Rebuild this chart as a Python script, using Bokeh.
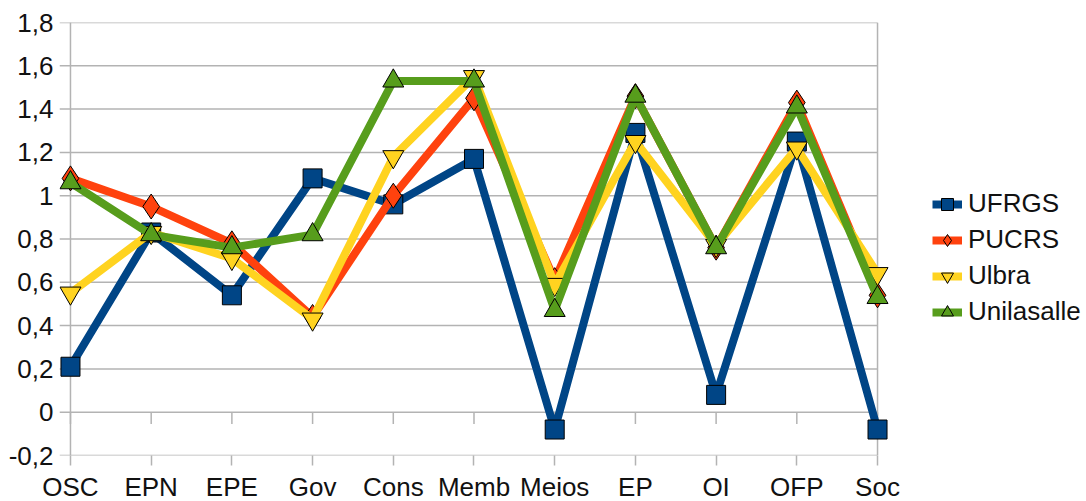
from bokeh.plotting import figure
from bokeh.models import Range1d, FixedTicker, CustomJSTickFormatter, Legend, LegendItem, ColumnDataSource
from bokeh.embed import file_html
from bokeh.resources import INLINE

categories = ["OSC", "EPN", "EPE", "Gov", "Cons", "Memb", "Meios", "EP", "OI", "OFP", "Soc"]
ufrgs = [0.21, 0.83, 0.54, 1.08, 0.96, 1.17, -0.08, 1.29, 0.08, 1.25, -0.08]
pucrs = [1.08, 0.95, 0.78, 0.44, 1.00, 1.45, 0.61, 1.46, 0.76, 1.43, 0.54]
ulbra = [0.55, 0.83, 0.71, 0.43, 1.18, 1.55, 0.59, 1.25, 0.77, 1.22, 0.64]
unilasalle = [1.06, 0.82, 0.76, 0.82, 1.53, 1.53, 0.47, 1.46, 0.76, 1.41, 0.53]
y_ticks = [-0.2, 0, 0.2, 0.4, 0.6, 0.8, 1.0, 1.2, 1.4, 1.6, 1.8]

xs = list(range(len(categories)))
n = len(categories) - 1
FONT = "Liberation Sans"
GRID = "#b3b3b3"
TXT = "#111111"
PAD_L = 0.136   # gridlines stick out left of the y axis like ticks
X_END = 12.577  # frame extends right to host the legend

p = figure(output_backend="svg", toolbar_location=None,
           x_range=Range1d(-PAD_L, X_END), y_range=Range1d(-0.2, 1.8),
           min_border_left=59, min_border_top=22, min_border_right=0, min_border_bottom=0)
p.frame_width = 1026
p.frame_height = 433

p.grid.visible = False
p.outline_line_color = None

# gridlines and frame lines
p.segment(x0=[-PAD_L] * len(y_ticks), y0=y_ticks, x1=[n] * len(y_ticks), y1=y_ticks,
          line_color=GRID, line_width=1.5)
p.segment(x0=[0, n], y0=[y_ticks[0]] * 2, x1=[0, n], y1=[y_ticks[-1]] * 2,
          line_color=GRID, line_width=1.5)
# x-axis tick marks at y = 0
p.segment(x0=xs, y0=[0] * len(xs), x1=xs, y1=[-0.055] * len(xs), line_color=GRID, line_width=1.5)

p.yaxis.ticker = FixedTicker(ticks=y_ticks)
p.yaxis.formatter = CustomJSTickFormatter(code="""
const v = Math.round(tick*10)/10;
return v.toString().replace('.', ',');
""")
p.xaxis.ticker = FixedTicker(ticks=xs)
p.xaxis.major_label_overrides = {i: c for i, c in enumerate(categories)}
for ax in (p.xaxis, p.yaxis):
    ax.axis_line_color = None
    ax.major_tick_line_color = GRID
    ax.major_tick_line_width = 1.5
    ax.major_tick_in = 0
    ax.minor_tick_line_color = None
    ax.major_label_text_font = FONT
    ax.major_label_text_font_size = "26px"
    ax.major_label_text_color = TXT
p.yaxis.major_tick_out = 0
p.yaxis.major_label_standoff = 6
p.xaxis.major_tick_out = 10
p.xaxis.major_label_standoff = 6

series = [
    ("UFRGS", ufrgs, "#004586", "square", 19),
    ("PUCRS", pucrs, "#ff420e", "diamond", 25),
    ("Ulbra", ulbra, "#ffd320", "inverted_triangle", 21),
    ("Unilasalle", unilasalle, "#579d1c", "triangle", 21),
]
items = []
for name, vals, col, mk, sz in series:
    src = ColumnDataSource(dict(x=xs, y=vals))
    l = p.line("x", "y", source=src, line_color=col, line_width=8)
    m = p.scatter("x", "y", source=src, marker=mk, size=sz, fill_color=col,
                  line_color="black", line_width=1)
    items.append(LegendItem(label=name, renderers=[l, m]))

legend = Legend(items=items, location=(873, 128), border_line_color=None,
                background_fill_alpha=0, label_text_font=FONT,
                label_text_font_size="26px", label_text_color=TXT,
                glyph_width=30, glyph_height=30, label_height=30, spacing=5,
                margin=0, padding=4, label_standoff=6)
p.add_layout(legend)

open("out.html", "w").write(file_html(p, INLINE))
